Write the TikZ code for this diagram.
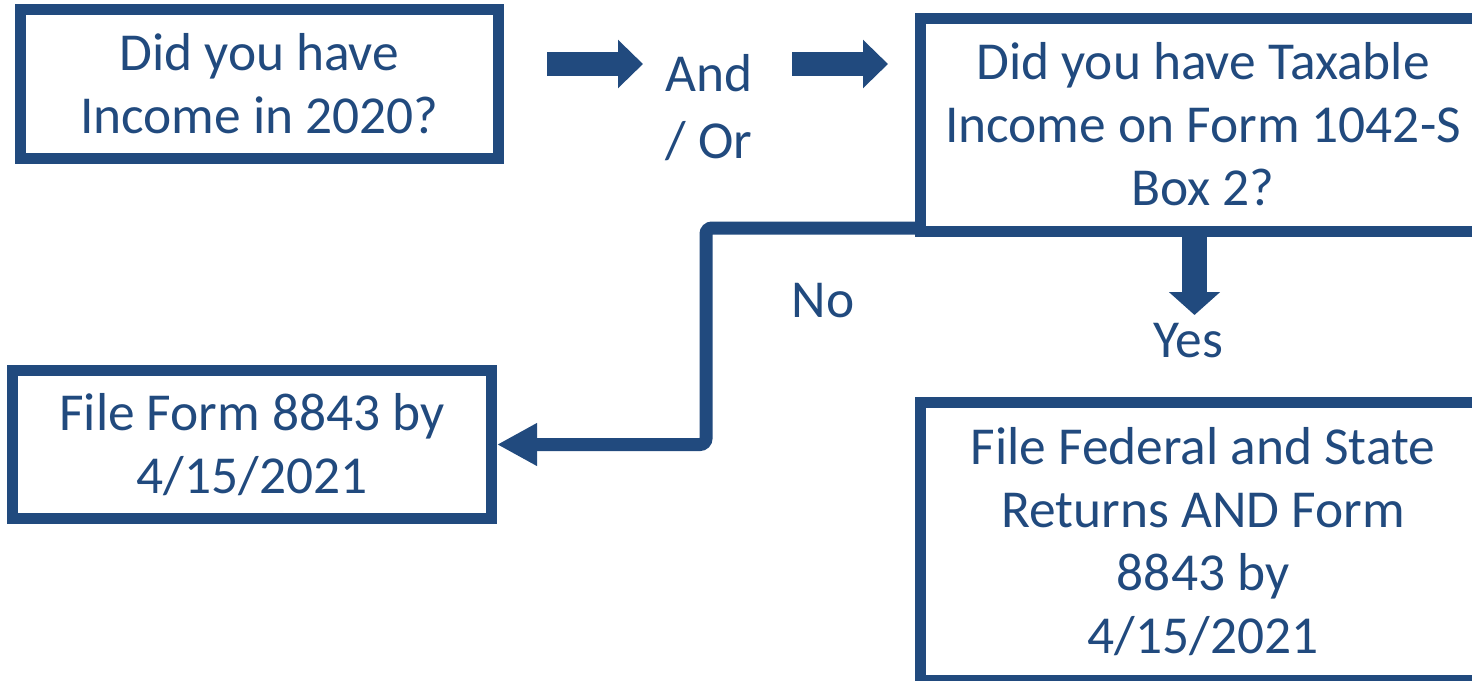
\documentclass[tikz,border=0pt]{standalone}
\usepackage{fontspec}
\setmainfont{Carlito}
\usepackage{xcolor}
\usepackage{tikz}
\usetikzlibrary{arrows.meta}

\definecolor{taxblue}{RGB}{33,74,126}

\begin{document}
\begin{tikzpicture}[x=0.5pt, y=-0.5pt,
		qbox/.style={draw=taxblue, line width=5.5pt, rectangle, inner sep=0pt, align=center, text=taxblue, font=\fontsize{26.7}{31.5}\selectfont},
		lbl/.style={text=taxblue, align=center, font=\fontsize{26.7}{31.5}\selectfont},
		bigarrow/.style={draw=taxblue, line width=12pt, -{Triangle[length=12.5pt, width=23.5pt]}},
		elbow/.style={draw=taxblue, line width=6.5pt, rounded corners=3pt, -{Triangle[length=20pt, width=20pt]}}]
		\useasboundingbox (0,0) rectangle (1472,680);
		
		% Nodes
		\node[qbox, minimum width=238.75pt, minimum height=74.25pt] (income) at (259.25,83.75) {Did you have\\Income in 2020?};
		\node[qbox, minimum width=282.5pt, minimum height=106.5pt] (taxable) at (1203,124.5) {Did you have Taxable\\Income on Form 1042-S\\Box 2?};
		\node[qbox, minimum width=239.5pt, minimum height=74pt] (form8843) at (252,444.5) {File Form 8843 by\\4/15/2021};
		\node[qbox, minimum width=282.5pt, minimum height=139pt] (federal) at (1203,541.5) {File Federal and State\\Returns AND Form\\8843 by\\4/15/2021};
		
		% Arrows
		\coordinate (arrowAs) at (547,64);
		\coordinate (arrowAe) at (643,64);
		\coordinate (arrowBs) at (792,64);
		\coordinate (arrowBe) at (888,64);
		\coordinate (yesend) at (1194.5,315);
		\coordinate (nobend) at (706,228);
		\draw[bigarrow] (arrowAs) -- (arrowAe);
		\draw[bigarrow] (arrowBs) -- (arrowBe);
		\draw[bigarrow, line width=12.5pt, -{Triangle[length=11.5pt, width=25pt]}] (taxable.south -| yesend) -- (yesend);
		\draw[elbow] (taxable.west |- nobend) -- (nobend) |- (form8843.east);
		
		% Labels
		\node[lbl, font=\fontsize{26.7}{33.5}\selectfont] (andor) at (709,108) {And\\/ Or};
		\node[lbl, anchor=base] (no) at (823,317) {No};
		\node[lbl, anchor=base] (yes) at (1188,357) {Yes};
		
	\end{tikzpicture}
\end{document}
